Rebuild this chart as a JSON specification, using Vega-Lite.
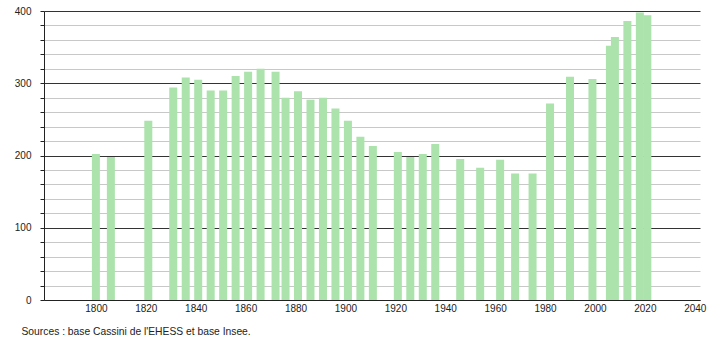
{
  "$schema": "https://vega.github.io/schema/vega-lite/v6.json",
  "autosize": "none",
  "width": 656,
  "height": 289,
  "padding": {"left": 44, "top": 11, "right": 10, "bottom": 40},
  "background": "white",
  "config": {
    "view": {"stroke": null},
    "font": "Liberation Sans",
    "axis": {"labelFont": "Liberation Sans", "labelFontSize": 10, "labelColor": "#222", "titleFont": "Liberation Sans"}
  },
  "data": {
    "values": [
      {"year": 1800, "pop": 202},
      {"year": 1806, "pop": 198},
      {"year": 1821, "pop": 248},
      {"year": 1831, "pop": 294},
      {"year": 1836, "pop": 308},
      {"year": 1841, "pop": 305},
      {"year": 1846, "pop": 290},
      {"year": 1851, "pop": 290},
      {"year": 1856, "pop": 310},
      {"year": 1861, "pop": 316},
      {"year": 1866, "pop": 320},
      {"year": 1872, "pop": 316},
      {"year": 1876, "pop": 280},
      {"year": 1881, "pop": 289},
      {"year": 1886, "pop": 277},
      {"year": 1891, "pop": 280},
      {"year": 1896, "pop": 265},
      {"year": 1901, "pop": 248},
      {"year": 1906, "pop": 226},
      {"year": 1911, "pop": 213},
      {"year": 1921, "pop": 205},
      {"year": 1926, "pop": 198},
      {"year": 1931, "pop": 202},
      {"year": 1936, "pop": 216},
      {"year": 1946, "pop": 195},
      {"year": 1954, "pop": 183},
      {"year": 1962, "pop": 194},
      {"year": 1968, "pop": 175},
      {"year": 1975, "pop": 175},
      {"year": 1982, "pop": 272},
      {"year": 1990, "pop": 309},
      {"year": 1999, "pop": 306},
      {"year": 2006, "pop": 352},
      {"year": 2008, "pop": 364},
      {"year": 2013, "pop": 386},
      {"year": 2018, "pop": 398},
      {"year": 2021, "pop": 394}
    ]
  },
  "mark": {"type": "bar", "size": 8, "color": "#ace2ac", "opacity": 1},
  "encoding": {
    "x": {
      "field": "year",
      "type": "quantitative",
      "scale": {"domain": [1779.2, 2042.1], "nice": false, "zero": false, "padding": 0},
      "axis": {
        "values": [1800, 1820, 1840, 1860, 1880, 1900, 1920, 1940, 1960, 1980, 2000, 2020, 2040],
        "format": "d",
        "ticks": false,
        "grid": false,
        "domainColor": "#222",
        "domainWidth": 1,
        "labelPadding": 3,
        "labelFlush": false,
        "title": "Sources : base Cassini de l'EHESS et base Insee.",
        "titleFontSize": 10.3,
        "titleFontWeight": "normal",
        "titleColor": "#222",
        "titleAnchor": "start",
        "titleAlign": "left",
        "titleBaseline": "alphabetic",
        "titleX": -23,
        "titleY": 34
      }
    },
    "y": {
      "field": "pop",
      "type": "quantitative",
      "scale": {"domain": [0, 400], "nice": false},
      "axis": {
        "values": [0, 20, 40, 60, 80, 100, 120, 140, 160, 180, 200, 220, 240, 260, 280, 300, 320, 340, 360, 380, 400],
        "labelExpr": "datum.value % 100 === 0 ? datum.label : ''",
        "title": null,
        "grid": true,
        "gridColor": {"condition": {"test": "datum.value % 100 === 0", "value": "#333333"}, "value": "#c8c8c8"},
        "gridWidth": 1,
        "ticks": true,
        "tickSize": 4,
        "tickColor": "#222",
        "domainColor": "#222",
        "labelPadding": 9
      }
    }
  }
}
